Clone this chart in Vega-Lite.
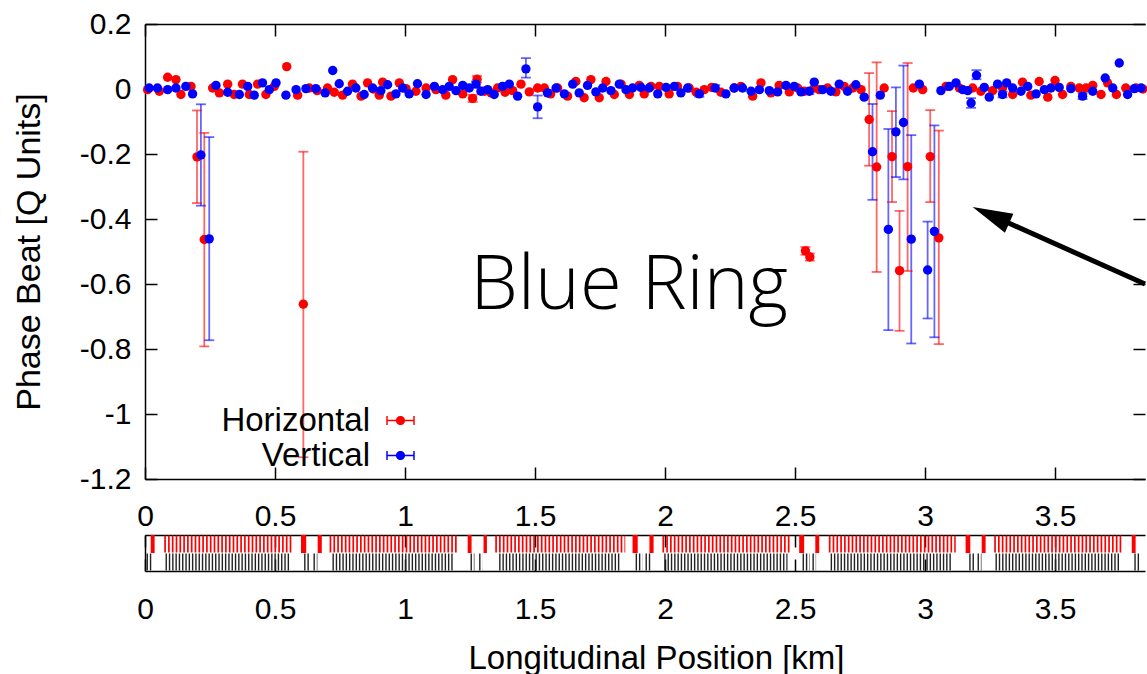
{
"$schema": "https://vega.github.io/schema/vega-lite/v6.json",
"padding": {"left": 12, "top": 9, "right": 0, "bottom": 0},
"config": {
 "font": "Liberation Sans",
 "view": {"stroke": null},
 "axis": {"labelFont": "Liberation Sans", "labelFontSize": 30, "labelColor": "#000", "titleFont": "Liberation Sans", "titleFontSize": 33, "titleFontWeight": "normal", "titleColor": "#000", "domainColor": "#000", "domainWidth": 1.5, "tickColor": "#000", "tickWidth": 1.5, "tickSize": -12, "grid": false, "labelFlush": false, "labelOverlap": false}
},
"datasets": {
 "pts": [
 {"s":"Horizontal","x":0.01,"y":-0.002},{"s":"Horizontal","x":0.055,"y":-0.007},{"s":"Horizontal","x":0.087,"y":0.036},{"s":"Horizontal","x":0.119,"y":0.029},{"s":"Horizontal","x":0.138,"y":-0.017},{"s":"Horizontal","x":0.177,"y":0.008},
 {"s":"Horizontal","x":0.2,"y":-0.209,"lo":-0.351,"hi":-0.066},{"s":"Horizontal","x":0.228,"y":-0.463,"lo":-0.792,"hi":-0.135},
 {"s":"Horizontal","x":0.26,"y":0.003},{"s":"Horizontal","x":0.286,"y":-0.012},{"s":"Horizontal","x":0.318,"y":0.015},{"s":"Horizontal","x":0.343,"y":-0.017},{"s":"Horizontal","x":0.375,"y":0.015},{"s":"Horizontal","x":0.401,"y":-0.017},{"s":"Horizontal","x":0.433,"y":0.015},{"s":"Horizontal","x":0.465,"y":-0.017},{"s":"Horizontal","x":0.497,"y":0.008},{"s":"Horizontal","x":0.545,"y":0.069},{"s":"Horizontal","x":0.587,"y":-0.019},
 {"s":"Horizontal","x":0.609,"y":-0.662,"lo":-1.133,"hi":-0.193},
 {"s":"Horizontal","x":0.632,"y":0.003},{"s":"Horizontal","x":0.662,"y":-0.005},{"s":"Horizontal","x":0.702,"y":0.003},{"s":"Horizontal","x":0.728,"y":-0.01},{"s":"Horizontal","x":0.76,"y":-0.019},{"s":"Horizontal","x":0.798,"y":0.015},{"s":"Horizontal","x":0.831,"y":-0.022},{"s":"Horizontal","x":0.856,"y":0.019},{"s":"Horizontal","x":0.878,"y":0.0},{"s":"Horizontal","x":0.901,"y":-0.019},{"s":"Horizontal","x":0.914,"y":0.021},{"s":"Horizontal","x":0.946,"y":-0.022},{"s":"Horizontal","x":0.978,"y":0.019},{"s":"Horizontal","x":1.004,"y":0.001},{"s":"Horizontal","x":1.042,"y":-0.007},{"s":"Horizontal","x":1.081,"y":0.003},{"s":"Horizontal","x":1.119,"y":-0.002},{"s":"Horizontal","x":1.157,"y":-0.019},{"s":"Horizontal","x":1.183,"y":0.029},{"s":"Horizontal","x":1.222,"y":-0.015},
 {"s":"Horizontal","x":1.26,"y":-0.029,"lo":-0.04,"hi":-0.018},{"s":"Horizontal","x":1.277,"y":0.03,"lo":0.02,"hi":0.04},
 {"s":"Horizontal","x":1.305,"y":-0.007},{"s":"Horizontal","x":1.331,"y":-0.012},{"s":"Horizontal","x":1.356,"y":0.003},{"s":"Horizontal","x":1.385,"y":-0.01},{"s":"Horizontal","x":1.414,"y":-0.005},{"s":"Horizontal","x":1.446,"y":0.015},{"s":"Horizontal","x":1.478,"y":-0.009},{"s":"Horizontal","x":1.51,"y":0.003},{"s":"Horizontal","x":1.536,"y":0.003},{"s":"Horizontal","x":1.56,"y":-0.015},{"s":"Horizontal","x":1.587,"y":0.003},{"s":"Horizontal","x":1.625,"y":-0.022},{"s":"Horizontal","x":1.657,"y":0.023},{"s":"Horizontal","x":1.689,"y":-0.027},{"s":"Horizontal","x":1.715,"y":0.029},{"s":"Horizontal","x":1.747,"y":-0.027},{"s":"Horizontal","x":1.773,"y":0.023},{"s":"Horizontal","x":1.805,"y":-0.017},{"s":"Horizontal","x":1.831,"y":0.015},{"s":"Horizontal","x":1.863,"y":-0.017},{"s":"Horizontal","x":1.901,"y":0.011},{"s":"Horizontal","x":1.92,"y":-0.015},{"s":"Horizontal","x":1.946,"y":0.008},{"s":"Horizontal","x":1.978,"y":0.008},{"s":"Horizontal","x":2.016,"y":-0.015},{"s":"Horizontal","x":2.048,"y":0.008},{"s":"Horizontal","x":2.093,"y":0.003},{"s":"Horizontal","x":2.12,"y":-0.01},{"s":"Horizontal","x":2.151,"y":-0.002},{"s":"Horizontal","x":2.18,"y":0.005},{"s":"Horizontal","x":2.215,"y":-0.01},{"s":"Horizontal","x":2.266,"y":0.003},{"s":"Horizontal","x":2.292,"y":0.008},{"s":"Horizontal","x":2.337,"y":-0.022},{"s":"Horizontal","x":2.369,"y":0.019},{"s":"Horizontal","x":2.407,"y":-0.012},{"s":"Horizontal","x":2.439,"y":0.011},{"s":"Horizontal","x":2.478,"y":-0.009},{"s":"Horizontal","x":2.51,"y":0.003},{"s":"Horizontal","x":2.536,"y":-0.007},
 {"s":"Horizontal","x":2.54,"y":-0.498,"lo":-0.51,"hi":-0.486},{"s":"Horizontal","x":2.557,"y":-0.517,"lo":-0.528,"hi":-0.506},
 {"s":"Horizontal","x":2.574,"y":0.003},{"s":"Horizontal","x":2.593,"y":-0.002},{"s":"Horizontal","x":2.625,"y":0.003},{"s":"Horizontal","x":2.657,"y":-0.009},{"s":"Horizontal","x":2.689,"y":0.008},{"s":"Horizontal","x":2.722,"y":0.003},{"s":"Horizontal","x":2.754,"y":-0.002},
 {"s":"Horizontal","x":2.785,"y":-0.094,"lo":-0.236,"hi":0.049},{"s":"Horizontal","x":2.814,"y":-0.24,"lo":-0.563,"hi":0.082},
 {"s":"Horizontal","x":2.843,"y":0.003},
 {"s":"Horizontal","x":2.873,"y":-0.208,"lo":-0.348,"hi":-0.068},{"s":"Horizontal","x":2.902,"y":-0.559,"lo":-0.744,"hi":-0.375},{"s":"Horizontal","x":2.933,"y":-0.239,"lo":-0.56,"hi":0.08},
 {"s":"Horizontal","x":2.955,"y":0.003},{"s":"Horizontal","x":2.991,"y":-0.002},
 {"s":"Horizontal","x":3.02,"y":-0.208,"lo":-0.348,"hi":-0.065},{"s":"Horizontal","x":3.053,"y":-0.458,"lo":-0.785,"hi":-0.128},
 {"s":"Horizontal","x":3.081,"y":0.008},{"s":"Horizontal","x":3.132,"y":0.003},{"s":"Horizontal","x":3.183,"y":0.003},{"s":"Horizontal","x":3.215,"y":-0.007},{"s":"Horizontal","x":3.26,"y":-0.005},{"s":"Horizontal","x":3.298,"y":0.003},{"s":"Horizontal","x":3.337,"y":-0.017},{"s":"Horizontal","x":3.375,"y":0.021},{"s":"Horizontal","x":3.407,"y":-0.019},{"s":"Horizontal","x":3.439,"y":0.023},{"s":"Horizontal","x":3.472,"y":-0.025},{"s":"Horizontal","x":3.5,"y":0.026},{"s":"Horizontal","x":3.529,"y":-0.017},{"s":"Horizontal","x":3.561,"y":0.008},{"s":"Horizontal","x":3.593,"y":0.003},{"s":"Horizontal","x":3.619,"y":0.003},{"s":"Horizontal","x":3.645,"y":0.011},{"s":"Horizontal","x":3.677,"y":-0.017},{"s":"Horizontal","x":3.702,"y":0.019},{"s":"Horizontal","x":3.736,"y":-0.017},{"s":"Horizontal","x":3.772,"y":0.003},{"s":"Horizontal","x":3.811,"y":0.003},{"s":"Horizontal","x":3.838,"y":0.0},
 {"s":"Vertical","x":0.016,"y":0.003},{"s":"Vertical","x":0.048,"y":0.003},{"s":"Vertical","x":0.087,"y":-0.002},{"s":"Vertical","x":0.119,"y":0.003},{"s":"Vertical","x":0.157,"y":0.008},{"s":"Vertical","x":0.183,"y":-0.015},
 {"s":"Vertical","x":0.215,"y":-0.203,"lo":-0.359,"hi":-0.047},{"s":"Vertical","x":0.247,"y":-0.461,"lo":-0.773,"hi":-0.148},
 {"s":"Vertical","x":0.273,"y":0.011},{"s":"Vertical","x":0.318,"y":-0.01},{"s":"Vertical","x":0.363,"y":-0.017},{"s":"Vertical","x":0.395,"y":0.008},{"s":"Vertical","x":0.42,"y":-0.019},{"s":"Vertical","x":0.452,"y":0.019},{"s":"Vertical","x":0.478,"y":-0.002},{"s":"Vertical","x":0.504,"y":0.019},{"s":"Vertical","x":0.542,"y":-0.019},{"s":"Vertical","x":0.581,"y":-0.002},{"s":"Vertical","x":0.619,"y":0.001},{"s":"Vertical","x":0.657,"y":0.001},{"s":"Vertical","x":0.693,"y":-0.012},{"s":"Vertical","x":0.722,"y":0.057},{"s":"Vertical","x":0.747,"y":0.016},{"s":"Vertical","x":0.779,"y":-0.007},{"s":"Vertical","x":0.811,"y":0.003},{"s":"Vertical","x":0.843,"y":-0.017},{"s":"Vertical","x":0.875,"y":0.003},{"s":"Vertical","x":0.907,"y":-0.005},{"s":"Vertical","x":0.933,"y":0.013},{"s":"Vertical","x":0.965,"y":-0.015},{"s":"Vertical","x":0.991,"y":0.003},{"s":"Vertical","x":1.016,"y":-0.015},{"s":"Vertical","x":1.048,"y":0.016},{"s":"Vertical","x":1.081,"y":-0.017},{"s":"Vertical","x":1.113,"y":0.008},{"s":"Vertical","x":1.145,"y":-0.002},{"s":"Vertical","x":1.17,"y":0.008},{"s":"Vertical","x":1.196,"y":-0.005},{"s":"Vertical","x":1.222,"y":0.011},{"s":"Vertical","x":1.247,"y":0.003},
 {"s":"Vertical","x":1.273,"y":0.015,"lo":0.007,"hi":0.023},
 {"s":"Vertical","x":1.292,"y":-0.007},{"s":"Vertical","x":1.318,"y":-0.002},{"s":"Vertical","x":1.343,"y":-0.017},{"s":"Vertical","x":1.375,"y":0.008},{"s":"Vertical","x":1.401,"y":0.015},{"s":"Vertical","x":1.433,"y":-0.022},
 {"s":"Vertical","x":1.465,"y":0.062,"lo":0.035,"hi":0.095},{"s":"Vertical","x":1.51,"y":-0.055,"lo":-0.09,"hi":-0.02},
 {"s":"Vertical","x":1.548,"y":-0.012},{"s":"Vertical","x":1.581,"y":0.003},{"s":"Vertical","x":1.613,"y":-0.015},{"s":"Vertical","x":1.645,"y":0.015},{"s":"Vertical","x":1.67,"y":-0.012},{"s":"Vertical","x":1.702,"y":0.011},{"s":"Vertical","x":1.734,"y":-0.009},{"s":"Vertical","x":1.76,"y":0.003},{"s":"Vertical","x":1.792,"y":-0.005},{"s":"Vertical","x":1.824,"y":0.015},{"s":"Vertical","x":1.85,"y":-0.002},{"s":"Vertical","x":1.875,"y":0.003},{"s":"Vertical","x":1.907,"y":0.005},{"s":"Vertical","x":1.939,"y":0.003},{"s":"Vertical","x":1.972,"y":-0.015},{"s":"Vertical","x":2.004,"y":0.005},{"s":"Vertical","x":2.036,"y":0.008},{"s":"Vertical","x":2.061,"y":-0.012},{"s":"Vertical","x":2.087,"y":0.003},
 {"s":"Vertical","x":2.132,"y":-0.015,"lo":-0.024,"hi":-0.006},{"s":"Vertical","x":2.193,"y":0.003,"lo":-0.006,"hi":0.012},
 {"s":"Vertical","x":2.234,"y":-0.015},{"s":"Vertical","x":2.266,"y":0.003},{"s":"Vertical","x":2.298,"y":0.003},{"s":"Vertical","x":2.331,"y":-0.007},{"s":"Vertical","x":2.363,"y":-0.002},{"s":"Vertical","x":2.401,"y":-0.005},{"s":"Vertical","x":2.433,"y":-0.009},{"s":"Vertical","x":2.465,"y":0.011},{"s":"Vertical","x":2.497,"y":0.008},{"s":"Vertical","x":2.523,"y":-0.009},
 {"s":"Vertical","x":2.555,"y":-0.007,"lo":-0.016,"hi":0.002},
 {"s":"Vertical","x":2.574,"y":0.021},{"s":"Vertical","x":2.606,"y":-0.002},{"s":"Vertical","x":2.638,"y":-0.007},{"s":"Vertical","x":2.67,"y":0.015},{"s":"Vertical","x":2.702,"y":-0.007},{"s":"Vertical","x":2.734,"y":0.013},{"s":"Vertical","x":2.766,"y":-0.025},
 {"s":"Vertical","x":2.798,"y":-0.193,"lo":-0.341,"hi":-0.046},
 {"s":"Vertical","x":2.828,"y":-0.019},
 {"s":"Vertical","x":2.859,"y":-0.432,"lo":-0.742,"hi":-0.123},{"s":"Vertical","x":2.888,"y":-0.132,"lo":-0.271,"hi":0.005},{"s":"Vertical","x":2.917,"y":-0.103,"lo":-0.278,"hi":0.072},{"s":"Vertical","x":2.947,"y":-0.462,"lo":-0.783,"hi":-0.142},
 {"s":"Vertical","x":2.978,"y":0.015},
 {"s":"Vertical","x":3.01,"y":-0.557,"lo":-0.706,"hi":-0.408},{"s":"Vertical","x":3.036,"y":-0.438,"lo":-0.764,"hi":-0.112},
 {"s":"Vertical","x":3.061,"y":-0.005},{"s":"Vertical","x":3.093,"y":0.008},{"s":"Vertical","x":3.119,"y":0.019},{"s":"Vertical","x":3.145,"y":-0.002},{"s":"Vertical","x":3.164,"y":-0.005},
 {"s":"Vertical","x":3.177,"y":-0.043,"lo":-0.058,"hi":-0.028},{"s":"Vertical","x":3.198,"y":0.042,"lo":0.03,"hi":0.058},
 {"s":"Vertical","x":3.228,"y":0.005},{"s":"Vertical","x":3.247,"y":-0.025},{"s":"Vertical","x":3.279,"y":0.015},
 {"s":"Vertical","x":3.298,"y":-0.017,"lo":-0.026,"hi":-0.008},
 {"s":"Vertical","x":3.314,"y":0.019},{"s":"Vertical","x":3.337,"y":0.003},{"s":"Vertical","x":3.369,"y":-0.007},{"s":"Vertical","x":3.395,"y":0.008},{"s":"Vertical","x":3.427,"y":-0.015},{"s":"Vertical","x":3.459,"y":-0.002},{"s":"Vertical","x":3.484,"y":0.003},{"s":"Vertical","x":3.516,"y":0.005},{"s":"Vertical","x":3.561,"y":0.001},
 {"s":"Vertical","x":3.606,"y":-0.022,"lo":-0.031,"hi":-0.013},
 {"s":"Vertical","x":3.645,"y":-0.007},{"s":"Vertical","x":3.693,"y":0.034},{"s":"Vertical","x":3.722,"y":0.003},{"s":"Vertical","x":3.747,"y":0.08},{"s":"Vertical","x":3.779,"y":-0.017},{"s":"Vertical","x":3.805,"y":0.001},{"s":"Vertical","x":3.831,"y":0.003}
 ],
 "note": [{"label": "Blue Ring", "x": 1.862, "y": -0.677}],
 "arrow": [{"x": 3.279, "y": -0.397, "x2": 3.846, "y2": -0.6}],
 "head": [{"x": 3.183, "y": -0.363}],
 "latB": [
  {"x":0.022,"x2":0.037,"k":"d"},{"x":0.6,"x2":0.62,"k":"d"},{"x":0.664,"x2":0.68,"k":"d"},{"x":1.241,"x2":1.256,"k":"d"},{"x":1.302,"x2":1.315,"k":"d"},{"x":1.875,"x2":1.895,"k":"d"},{"x":1.94,"x2":1.956,"k":"d"},{"x":2.516,"x2":2.535,"k":"d"},{"x":2.578,"x2":2.593,"k":"d"},{"x":3.156,"x2":3.174,"k":"d"},{"x":3.218,"x2":3.233,"k":"d"},{"x":3.795,"x2":3.81,"k":"d"}
 ],
 "latS": [
  {"x":0.074,"x2":0.57,"k":"d"},{"x":0.71,"x2":1.205,"k":"d"},{"x":1.347,"x2":1.847,"k":"d"},{"x":1.99,"x2":2.483,"k":"d"},{"x":2.63,"x2":3.118,"k":"d"},{"x":3.266,"x2":3.76,"k":"d"},
  {"x":0.079,"x2":0.556,"k":"q"},{"x":0.721,"x2":1.19,"k":"q"},{"x":1.362,"x2":1.829,"k":"q"},{"x":1.997,"x2":2.471,"k":"q"},{"x":2.637,"x2":3.106,"k":"q"},{"x":3.271,"x2":3.752,"k":"q"},
  {"x":0.006,"x2":0.025,"k":"q"},{"x":0.612,"x2":0.634,"k":"q"},{"x":0.648,"x2":0.663,"k":"q"},{"x":1.252,"x2":1.267,"k":"q"},{"x":1.285,"x2":1.298,"k":"q"},{"x":1.887,"x2":1.913,"k":"q"},{"x":1.925,"x2":1.944,"k":"q"},{"x":2.529,"x2":2.556,"k":"q"},{"x":2.567,"x2":2.581,"k":"q"},{"x":3.17,"x2":3.19,"k":"q"},{"x":3.202,"x2":3.217,"k":"q"},{"x":3.805,"x2":3.824,"k":"q"}
 ]
},
"spacing": 56,
"bounds": "flush",
"resolve": {"legend": {"color": "independent"}, "scale": {"x": "independent"}},
"vconcat": [
 {
  "width": 1000, "height": 455,
  "resolve": {"axis": {"x": "independent", "y": "independent"}},
  "layer": [
   {
    "data": {"name": "pts"},
    "transform": [{"filter": "isValid(datum.lo)"}],
    "mark": {"type": "rule", "strokeWidth": 1.8, "opacity": 0.6},
    "encoding": {
     "x": {"field": "x", "type": "quantitative", "scale": {"domain": [0, 3.846], "nice": false, "zero": false}, "axis": {"orient": "bottom", "values": [0,0.5,1,1.5,2,2.5,3,3.5], "labelExpr": "'' + datum.value", "title": null, "labelPadding": 34}},
     "y": {"field": "lo", "type": "quantitative", "scale": {"domain": [-1.2, 0.2], "nice": false, "zero": false}, "axis": {"orient": "left", "values": [-1.2,-1,-0.8,-0.6,-0.4,-0.2,0,0.2], "labelExpr": "'' + datum.value", "title": "Phase Beat [Q Units]", "titleFontSize": 34, "labelPadding": 26, "titlePadding": 33}},
     "y2": {"field": "hi"},
     "color": {"field": "s", "type": "nominal", "scale": {"domain": ["Horizontal", "Vertical"], "range": ["#ff0000", "#0000ff"]}, "legend": {"orient": "none", "legendX": 71, "legendY": 380, "title": null, "padding": 0, "labelFont": "Liberation Sans", "labelFontSize": 33, "labelColor": "#000", "labelAlign": "right", "labelOffset": -47, "symbolOffset": 168, "rowPadding": 1, "symbolSize": 729, "symbolStrokeWidth": 0, "symbolOpacity": 1, "symbolType": "M-1,-0.055H1V0.055H-1Z M-1.055,-0.33H-0.945V0.33H-1.055Z M0.945,-0.33H1.055V0.33H0.945Z M-0.34,0A0.34,0.34,0,1,1,0.34,0A0.34,0.34,0,1,1,-0.34,0Z", "encode": {"symbols": {"update": {"opacity": {"value": 1}, "fillOpacity": {"value": 1}}}}}}
    }
   },
   {
    "data": {"name": "pts"},
    "transform": [{"filter": "isValid(datum.lo)"}, {"fold": ["lo", "hi"], "as": ["k", "v"]}],
    "mark": {"type": "tick", "orient": "horizontal", "size": 10, "thickness": 1.8, "opacity": 0.6},
    "encoding": {
     "x": {"field": "x", "type": "quantitative", "axis": null},
     "y": {"field": "v", "type": "quantitative", "axis": null},
     "color": {"field": "s", "type": "nominal"}
    }
   },
   {
    "data": {"name": "pts"},
    "mark": {"type": "circle", "size": 88, "opacity": 1},
    "encoding": {
     "x": {"field": "x", "type": "quantitative", "axis": {"orient": "top", "values": [0,0.5,1,1.5,2,2.5,3,3.5], "labels": false, "title": null}},
     "y": {"field": "y", "type": "quantitative", "axis": {"orient": "right", "values": [-1.2,-1,-0.8,-0.6,-0.4,-0.2,0,0.2], "labels": false, "domain": false, "title": null}},
     "color": {"field": "s", "type": "nominal"}
    }
   },
   {
    "data": {"name": "note"},
    "mark": {"type": "text", "font": "Open Sans", "fontSize": 76, "fontWeight": 350, "align": "center", "baseline": "alphabetic", "color": "#000"},
    "encoding": {
     "x": {"field": "x", "type": "quantitative", "axis": null},
     "y": {"field": "y", "type": "quantitative", "axis": null},
     "text": {"field": "label"}
    }
   },
   {
    "data": {"name": "arrow"},
    "mark": {"type": "rule", "strokeWidth": 5, "color": "#000"},
    "encoding": {
     "x": {"field": "x", "type": "quantitative", "axis": null},
     "y": {"field": "y", "type": "quantitative", "axis": null},
     "x2": {"field": "x2"},
     "y2": {"field": "y2"}
    }
   },
   {
    "data": {"name": "head"},
    "mark": {"type": "point", "filled": true, "opacity": 1, "color": "#000", "shape": "M0,0L1,-0.26L1,0.26Z", "size": 6400, "angle": 24},
    "encoding": {
     "x": {"field": "x", "type": "quantitative", "axis": null},
     "y": {"field": "y", "type": "quantitative", "axis": null}
    }
   }
  ]
 },
 {
  "width": 1000, "height": 36,
  "resolve": {"axis": {"x": "independent", "y": "independent"}},
  "layer": [
   {
    "data": {"name": "latS"},
    "transform": [{"filter": "datum.k == 'd'"}],
    "mark": {"type": "rule", "strokeWidth": 17, "color": "#ff0000", "strokeDash": [1.7, 2.1], "strokeCap": "butt"},
    "encoding": {
     "x": {"field": "x", "type": "quantitative", "scale": {"domain": [0, 3.846], "nice": false, "zero": false}, "axis": {"orient": "bottom", "values": [0,0.5,1,1.5,2,2.5,3,3.5], "labelExpr": "'' + datum.value", "title": "Longitudinal Position [km]", "titleX": 511, "labelPadding": 35, "titlePadding": 18}},
     "x2": {"field": "x2"},
     "y": {"field": "k", "type": "nominal", "scale": {"domain": ["d", "q"], "paddingInner": 0, "paddingOuter": 0}, "axis": {"orient": "left", "labels": false, "ticks": false, "domain": true, "title": null}}
    }
   },
   {
    "data": {"name": "latS"},
    "transform": [{"filter": "datum.k == 'q'"}],
    "mark": {"type": "rule", "strokeWidth": 17, "color": "#222222", "strokeDash": [1.4, 1.9], "strokeCap": "butt"},
    "encoding": {
     "x": {"field": "x", "type": "quantitative", "axis": null},
     "x2": {"field": "x2"},
     "y": {"field": "k", "type": "nominal", "axis": null}
    }
   },
   {
    "data": {"name": "latB"},
    "mark": {"type": "rect", "color": "#ff0000"},
    "encoding": {
     "x": {"field": "x", "type": "quantitative", "axis": {"orient": "top", "values": [0,0.5,1,1.5,2,2.5,3,3.5], "labels": false, "title": null}},
     "x2": {"field": "x2"},
     "y": {"field": "k", "type": "nominal", "axis": null}
    }
   }
  ]
 }
]
}
